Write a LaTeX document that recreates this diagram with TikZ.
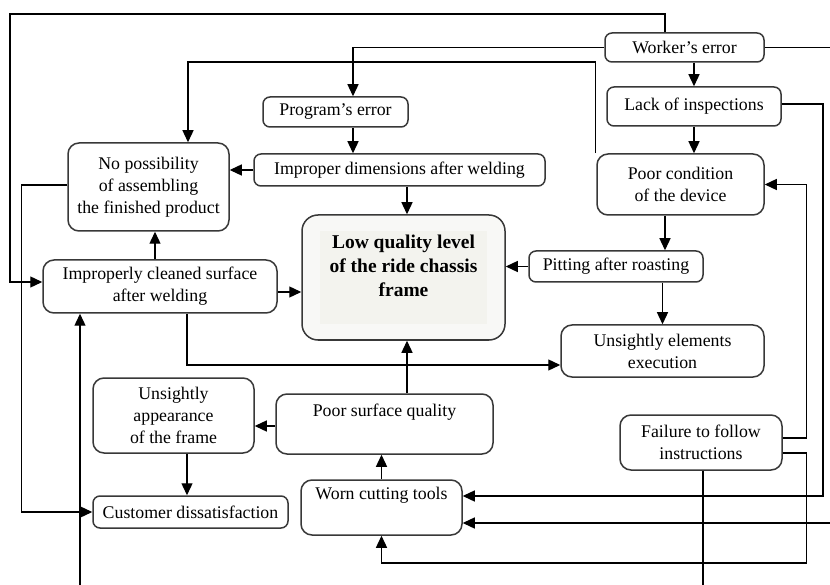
\documentclass[tikz,border=0pt]{standalone}
\usepackage{fontspec}
\setmainfont{Liberation Serif}
\usetikzlibrary{
  arrows.meta,
}
\definecolor{boxline}{HTML}{383838}
\definecolor{mainfill}{HTML}{F8F8F6}
\definecolor{mainin}{HTML}{F3F3EE}
\setlength{\fboxsep}{0pt}
\tikzset{
  cause/.style={
    rectangle,
    rounded corners=7pt,
    align=center,
    inner sep=2pt,
    line width=1.5pt,
    draw=boxline,
    fill=white,
    font=\fontsize{17.8}{22}\selectfont
  },
  bigcause/.style={
    cause,
    rounded corners=11pt
  },
  main/.style={
    rectangle,
    rounded corners=16pt,
    inner sep=0pt,
    minimum width=203pt,
    minimum height=125pt,
    line width=1.5pt,
    draw=boxline,
    fill=mainfill,
    font=\fontsize{19.5}{24}\selectfont\bfseries
  },
  arrow/.style={
    line width=1.3pt,
    -{Triangle[length=12pt,width=11pt]},
  },
  link/.style={
    line width=1.3pt,
  },
}

\begin{document}
\begin{tikzpicture}[x=1pt,y=-1pt]

  \useasboundingbox (0,0) rectangle (830,585);

  % Central effect
  \node (lowq) [main] at (403.5,277.5)
  {\colorbox{mainin}{\parbox[c][93pt][t]{167pt}{\vspace*{4pt}\centering Low quality level\\of the ride chassis\\frame}}};

  % Right column
  \node (worker) [cause, minimum width=159pt, minimum height=29pt] at (684.5,47.5) {Worker's error};
  \node (lack) [cause, minimum width=174pt, minimum height=39pt] at (694,106.5) {Lack of inspections};
  \node (device) [bigcause, minimum width=167pt, minimum height=61pt] at (680.5,184.5) {Poor condition\\of the device};
  \node (pitting) [cause, minimum width=174pt, minimum height=31pt] at (616,266.5) {Pitting after roasting};
  \node (unsel) [bigcause, minimum width=203pt, minimum height=52pt] at (662.5,351) {Unsightly elements\\execution};
  \node (failure) [bigcause, minimum width=162pt, minimum height=55pt] at (701,442.5) {Failure to follow\\instructions};

  % Upper and left blocks
  \node (program) [cause, minimum width=145pt, minimum height=30pt] at (335.5,112) {Program's error};
  \node (improper) [cause, minimum width=291pt, minimum height=32pt] at (399.5,170) {Improper dimensions after welding};
  \node (nopossib) [bigcause, minimum width=161pt, minimum height=88pt] at (148.5,187) {No possibility\\of assembling\\the finished product};
  \node (cleaned) [bigcause, minimum width=234pt, minimum height=53pt] at (160,286.5) {Improperly cleaned surface\\after welding};

  % Lower blocks
  \node (poorsurf) [bigcause, minimum width=217pt, minimum height=60pt] at (384.5,424) {Poor surface quality\\[6pt]\mbox{}};
  \node (unsappear) [bigcause, minimum width=161pt, minimum height=75pt] at (173.5,415.5) {Unsightly\\appearance\\of the frame};
  \node (customer) [cause, minimum width=195pt, minimum height=32pt] at (190.5,512) {Customer dissatisfaction};
  \node (worn) [bigcause, minimum width=161pt, minimum height=55pt] at (381.5,507.5) {Worn cutting tools\\[7pt]\mbox{}};

  % Free ends at the picture border
  \coordinate (edgeR) at (830,523);
  \coordinate (edgeB) at (80,585);

  % Arrows
  \draw [arrow] ([xshift=-19.5pt]worker.north) |- (10,14) |- ([yshift=4.5pt]cleaned.west);
  \draw [arrow] (worker.west) -| ([xshift=17.5pt]program.north);
  \draw [arrow] ([xshift=-1pt]device.north west) |- (188,62) -- ([xshift=39.5pt]nopossib.north);
  \draw [link] (worker.east) -- (worker.east -| edgeR);
  \draw [arrow] (lack.north |- worker.south) -- (lack.north);
  \draw [arrow] (lack.south) -- (lack.south |- device.north);
  \draw [arrow] ([xshift=-15.5pt]device.south) -- ([xshift=-15.5pt]device.south |- pitting.north);
  \draw [arrow] (unsel.north |- pitting.south) -- (unsel.north);
  \draw [arrow] (pitting.west) -- (pitting.west -| lowq.east);

  \draw [arrow] ([yshift=4.5pt]failure.east) -- ++(24,0) |- (device.east);
  \draw [arrow] ([yshift=-10.5pt]failure.east) -- ++(24,0) -- ++(0,110) -| (worn.south);
  \draw [link] ([xshift=2pt]failure.south) -- ([xshift=2pt]failure.south |- edgeB);
  \draw [arrow] ([yshift=2.5pt]lack.east) -| (823,496) -- ([yshift=11.5pt]worn.east);
  \draw [arrow] (edgeR) -- (edgeR -| worn.east);

  \draw [arrow] ([yshift=2pt]nopossib.west) -- ++(-46,0) |- (customer.west);
  \draw [arrow] (improper.west) -- (improper.west -| nopossib.east);
  \draw [arrow] ([xshift=17.5pt]program.south) -- ([xshift=17.5pt]program.south |- improper.north);
  \draw [arrow] ([xshift=3.5pt]lowq.north |- improper.south) -- ([xshift=3.5pt]lowq.north);
  \draw [arrow] ([xshift=-5pt]cleaned.north) -- ([xshift=-5pt]cleaned.north |- nopossib.south);
  \draw [arrow] ([yshift=-5.5pt]cleaned.east) -- ([yshift=-5.5pt]cleaned.east -| lowq.west);
  \draw [arrow] ([xshift=27pt]cleaned.south) |- ([yshift=-14pt]unsel.west);

  \draw [arrow] ([xshift=3.5pt]lowq.south |- poorsurf.north) -- ([xshift=3.5pt]lowq.south);
  \draw [arrow] ([yshift=-2pt]poorsurf.west) -- ([yshift=-2pt]poorsurf.west -| unsappear.east);
  \draw [arrow] ([xshift=13.5pt]unsappear.south) -- ([xshift=13.5pt]unsappear.south |- customer.north);
  \draw [arrow] (worn.north) -- (worn.north |- poorsurf.south);
  \draw [arrow] (edgeB) -- (edgeB |- cleaned.south);

\end{tikzpicture}
\end{document}
